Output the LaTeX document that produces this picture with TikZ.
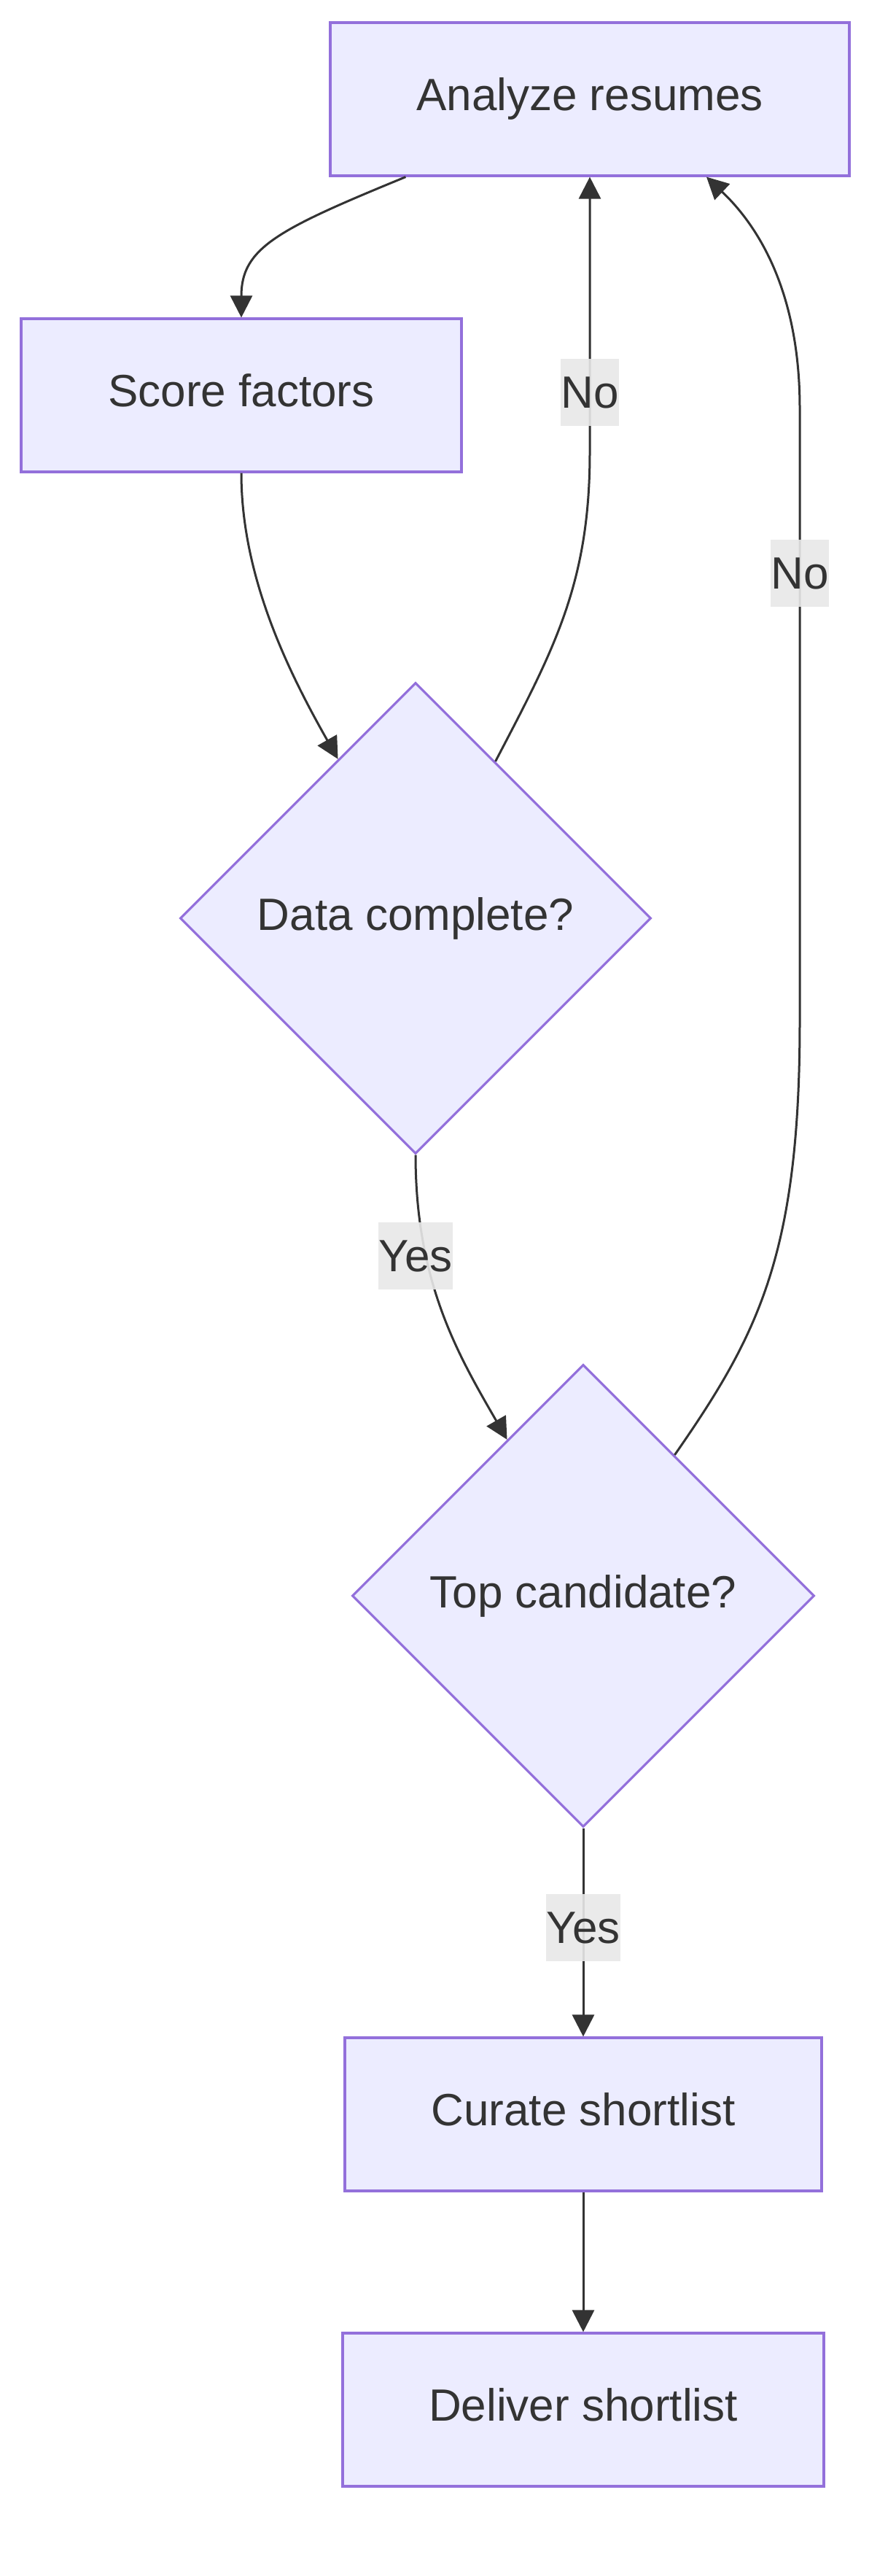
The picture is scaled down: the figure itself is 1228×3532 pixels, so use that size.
\documentclass[tikz,border=0pt]{standalone}
\usepackage{fontspec}
\setmainfont{Liberation Sans}
\usetikzlibrary{arrows.meta, shapes.geometric}
\definecolor{cfill}{HTML}{ECECFF}
\definecolor{cborder}{HTML}{9370DB}
\definecolor{ctext}{HTML}{333333}
\definecolor{cline}{HTML}{333333}
\definecolor{clabel}{HTML}{E8E8E8}
\tikzset{
  every picture/.style={font=\fontsize{31}{37}\selectfont, x=0.5pt, y=-0.5pt},
  box/.style={draw=cborder, fill=cfill, line width=1.6pt, text=ctext, minimum height=105pt, inner sep=0pt, text height=22.6pt, text depth=6.8pt},
  decision/.style={diamond, aspect=1, draw=cborder, fill=cfill, line width=1.6pt, text=ctext, inner sep=0pt, minimum width=#1, minimum height=#1},
  arrow/.style={-{Triangle[length=15pt, width=15pt]}, draw=cline, line width=1.5pt},
  edgelbl/.style={fill=clabel, fill opacity=0.9, text opacity=1, text=ctext, inner xsep=0pt, inner ysep=0pt, minimum height=46pt},
}

\begin{document}
\begin{tikzpicture}
  \useasboundingbox (0,0) rectangle (1228,3532);
  \node[box, minimum width=356pt] (analyze) at (809,136) {Analyze resumes};
  \node[box, minimum width=302pt] (score) at (331,542) {Score factors};
  \node[decision=323pt] (datachk) at (570,1259) {Data complete?};
  \node[decision=317pt] (topcand) at (800,2188) {Top candidate?};
  \node[box, minimum width=327pt] (curate) at (800,2899) {Curate shortlist};
  \node[box, minimum width=330pt] (deliver) at (800,3304) {Deliver shortlist};
  \draw[arrow] ([xshift=52.5pt]analyze.south west) .. controls (380,315) and (331,340) .. (score.north);
  \draw[arrow] (score.south) .. controls (331,790) and (395,920) .. (datachk.116);
  \draw[arrow] (datachk.63) .. controls (760,890) and (809,800) .. (809,620) -- (analyze.south);
  \draw[arrow] (datachk.south) .. controls (570,1760) and (630,1860) .. (topcand.116);
  \draw[arrow] (topcand.57) .. controls (1040,1830) and (1097,1720) .. (1097,1400) -- (1097,560) .. controls (1097,400) and (1040,310) .. ([xshift=80pt]analyze.south);
  \draw[arrow] (topcand.south) -- (curate.north);
  \draw[arrow] (curate.south) -- (deliver.north);
  \node[edgelbl] (no1) at (809,538) {No};
  \node[edgelbl] (no2) at (1097,786) {No};
  \node[edgelbl] (yes1) at (570,1722) {Yes};
  \node[edgelbl] (yes2) at (800,2643) {Yes};
\end{tikzpicture}
\end{document}
